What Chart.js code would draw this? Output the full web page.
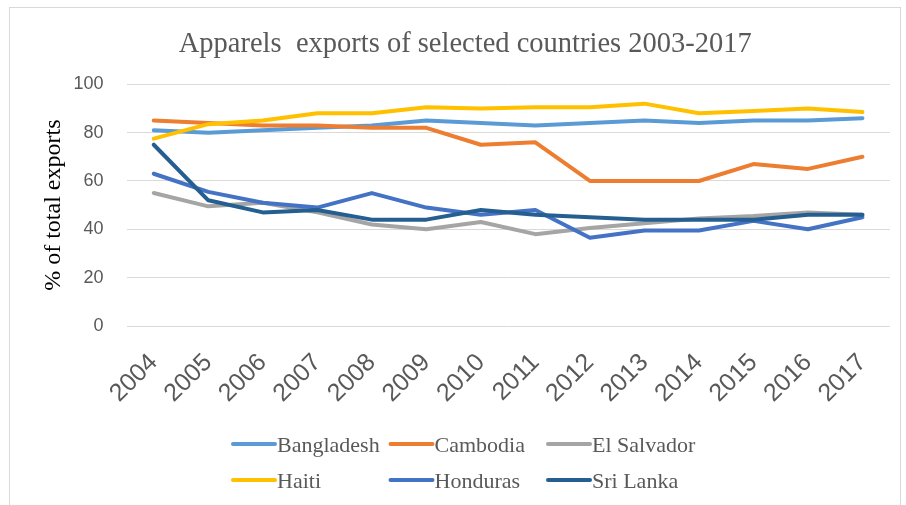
<!DOCTYPE html>
<html>
<head>
<meta charset="utf-8">
<title>Apparels exports of selected countries 2003-2017</title>
<script src="https://cdn.jsdelivr.net/npm/chart.js@4/dist/chart.umd.min.js"></script>
<style>
  html, body { margin: 0; padding: 0; background: #ffffff; }
  #wrap { position: relative; width: 906px; height: 505px; }
</style>
</head>
<body>
<div id="wrap"><canvas id="chart" width="906" height="505"></canvas></div>
<script>
// Apparel exports as a share of total exports (%)
const years = ['2004', '2005', '2006', '2007', '2008', '2009', '2010', '2011', '2012', '2013', '2014', '2015', '2016', '2017'];
const bangladesh = [81, 80, 81, 82, 83, 85, 84, 83, 84, 85, 84, 85, 85, 86];
const cambodia   = [85, 84, 83, 83, 82, 82, 75, 76, 60, 60, 60, 67, 65, 70];
const elSalvador = [55, 49.5, 51, 47, 42, 40, 43, 38, 40.5, 42.5, 44.5, 45.5, 47, 46];
const haiti      = [77.5, 83.5, 85, 88, 88, 90.5, 90, 90.5, 90.5, 92, 88, 89, 90, 88.5];
const honduras   = [63, 55.5, 51, 49, 55, 49, 46, 48, 36.5, 39.5, 39.5, 43.5, 40, 45];
const sriLanka   = [75, 52, 47, 48, 44, 44, 48, 46, 45, 44, 44, 44, 46, 46];
const yTicks = [0, 20, 40, 60, 80, 100];

const series = [
  { name: 'Bangladesh',  values: bangladesh, color: '#5B9BD5' },
  { name: 'Cambodia',    values: cambodia,   color: '#ED7D31' },
  { name: 'El Salvador', values: elSalvador, color: '#A5A5A5' },
  { name: 'Haiti',       values: haiti,      color: '#FFC000' },
  { name: 'Honduras',    values: honduras,   color: '#4472C4' },
  { name: 'Sri Lanka',   values: sriLanka,   color: '#255E91' }
];

const SERIF = '"Liberation Serif", "Times New Roman", serif';
const SANS = '"Liberation Sans", Arial, sans-serif';

// Thin frame around the whole chart
const framePlugin = {
  id: 'frame',
  beforeDraw(chart) {
    const ctx = chart.ctx;
    ctx.save();
    ctx.fillStyle = '#ffffff';
    ctx.fillRect(0, 0, chart.width, chart.height);
    ctx.strokeStyle = '#d9d9d9';
    ctx.lineWidth = 1;
    ctx.strokeRect(9.5, 7.5, chart.width - 15, chart.height + 10);
    ctx.restore();
  }
};

// Two-row legend laid out in fixed columns
const gridLegend = {
  id: 'gridLegend',
  afterDraw(chart) {
    const ctx = chart.ctx;
    const cols = 3, colW = 157.5, x0 = 233, lineLen = 42;
    const rowY = [chart.height - 60, chart.height - 24];
    ctx.save();
    ctx.font = '22px ' + SERIF;
    ctx.textBaseline = 'middle';
    ctx.textAlign = 'left';
    chart.data.datasets.forEach((ds, i) => {
      const x = x0 + (i % cols) * colW;
      const y = rowY[Math.floor(i / cols)];
      ctx.strokeStyle = ds.borderColor;
      ctx.lineWidth = 4;
      ctx.lineCap = 'round';
      ctx.beginPath();
      ctx.moveTo(x, y - 1);
      ctx.lineTo(x + lineLen, y - 1);
      ctx.stroke();
      ctx.fillStyle = '#595959';
      ctx.fillText(ds.label, x + lineLen + 2, y + 1);
    });
    ctx.restore();
  }
};

new Chart(document.getElementById('chart'), {
  type: 'line',
  data: {
    labels: years,
    datasets: series.map((s, i) => ({
      label: s.name,
      data: s.values,
      borderColor: s.color,
      backgroundColor: s.color,
      borderWidth: 4,
      pointRadius: 0,
      pointHoverRadius: 0,
      tension: 0,
      fill: false,
      borderCapStyle: 'round',
      borderJoinStyle: 'round',
      order: series.length - i
    }))
  },
  options: {
    responsive: false,
    animation: false,
    devicePixelRatio: 1,
    layout: { padding: { top: 8, left: 34, right: 9.5, bottom: 79 } },
    plugins: {
      legend: { display: false },
      tooltip: { enabled: false },
      title: {
        display: true,
        text: 'Apparels  exports of selected countries 2003-2017',
        color: '#595959',
        font: { family: SERIF, size: 28.5, weight: 'normal' },
        padding: { top: 19, bottom: 23.1 }
      }
    },
    scales: {
      x: {
        type: 'category',
        offset: true,
        grid: { display: false, drawTicks: false },
        border: { display: false },
        ticks: {
          color: '#595959',
          font: { family: SANS, size: 25 },
          minRotation: 45,
          maxRotation: 45,
          autoSkip: false,
          padding: 22
        },
        afterFit(scale) { scale.height = 100; }
      },
      y: {
        min: 0,
        max: 100,
        grid: { color: '#d9d9d9', lineWidth: 1, drawTicks: false },
        border: { display: false },
        afterBuildTicks(scale) { scale.ticks = yTicks.map(v => ({ value: v })); },
        ticks: {
          color: '#595959',
          font: { family: SANS, size: 18 },
          padding: 23
        },
        title: {
          display: true,
          text: '% of total exports',
          color: '#000000',
          font: { family: SERIF, size: 24, weight: 'normal' },
          padding: { top: 5, bottom: 0 }
        },
        afterFit(scale) { scale.width = 92.5; }
      }
    }
  },
  plugins: [framePlugin, gridLegend]
});
</script>
</body>
</html>
